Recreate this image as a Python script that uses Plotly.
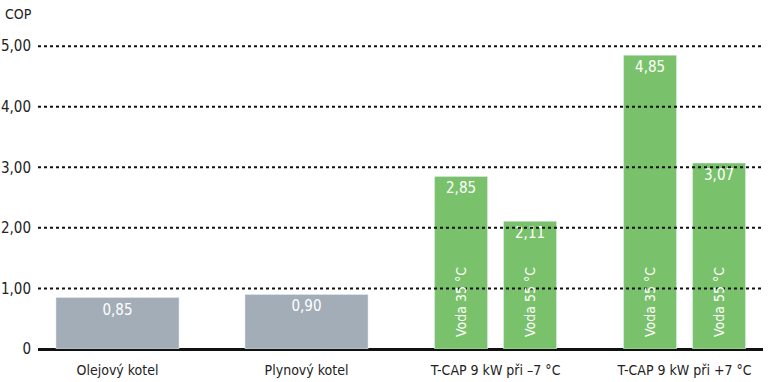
import plotly.graph_objects as go

categories = ["Olejový kotel", "Plynový kotel", "T-CAP 9 kW při –7 °C", "T-CAP 9 kW při +7 °C"]
boiler_values = [0.85, 0.90]
water35_values = [2.85, 4.85]
water55_values = [2.11, 3.07]
series_labels = ["Voda 35 °C", "Voda 55 °C"]
tick_vals = [0, 1, 2, 3, 4, 5]
tick_text = ["0", "1,00", "2,00", "3,00", "4,00", "5,00"]

FONT = "Liberation Sans Narrow, DejaVu Sans Condensed, Arial Narrow, sans-serif"
GRAY = "#a3adb7"
GREEN = "#79c26b"

def fmt(v):
    return f"{v:.2f}".replace(".", ",")

pos = list(range(len(categories)))
gw = 0.651
bw = 0.28
sep = 0.1825

fig = go.Figure()
fig.add_trace(go.Bar(
    x=pos[:2], y=boiler_values, width=gw, marker_color=GRAY,
    text=[fmt(v) for v in boiler_values], textposition="inside",
    insidetextanchor="end", textangle=0,
    textfont=dict(color="white", size=15, family=FONT),
))
for vals, off in ((water35_values, -sep), (water55_values, sep)):
    fig.add_trace(go.Bar(
        x=pos[2:], y=vals, width=bw, offset=off - bw / 2, marker_color=GREEN,
        text=[fmt(v) for v in vals], textposition="inside",
        insidetextanchor="end", textangle=0,
        textfont=dict(color="white", size=15, family=FONT),
    ))

annotations = []
for p in pos[2:]:
    for lab, off in zip(series_labels, (-sep, sep)):
        annotations.append(dict(
            x=p + off, y=0, xref="x", yref="y", text=lab, showarrow=False,
            textangle=-90, xanchor="center", yanchor="bottom", yshift=10,
            font=dict(color="white", size=14, family=FONT),
        ))
annotations.append(dict(
    xref="paper", yref="paper", x=-35 / 725, y=1 + (28 - 14) / 321,
    text="COP", showarrow=False,
    font=dict(color="#222", size=14, family=FONT), xanchor="left", yanchor="middle",
))

shapes = []
for t in tick_vals[1:]:
    shapes.append(dict(
        type="line", xref="paper", yref="y", x0=0, x1=1, y0=t, y1=t,
        line=dict(color="#111", width=2, dash="dot"), layer="above",
    ))

fig.update_layout(
    width=768, height=382,
    margin=dict(l=38, r=5, t=28, b=33),
    paper_bgcolor="white", plot_bgcolor="white",
    barmode="overlay", showlegend=False,
    font=dict(family=FONT, color="#222", size=14),
    annotations=annotations, shapes=shapes,
    xaxis=dict(
        range=[-0.4206, 3.415], tickvals=pos, ticktext=categories,
        showgrid=False, zeroline=False, showline=False, automargin=False,
        ticks="outside", ticklen=8, tickcolor="rgba(0,0,0,0)",
        tickfont=dict(size=14, family=FONT, color="#222"),
    ),
    yaxis=dict(
        range=[0, 5.3], tickvals=tick_vals, ticktext=tick_text, automargin=False,
        showgrid=False, zeroline=True, zerolinecolor="#111", zerolinewidth=2.5,
        ticks="outside", ticklen=3, tickcolor="rgba(0,0,0,0)",
        tickfont=dict(size=15, family=FONT, color="#222"),
    ),
)

fig.write_html("out.html")
